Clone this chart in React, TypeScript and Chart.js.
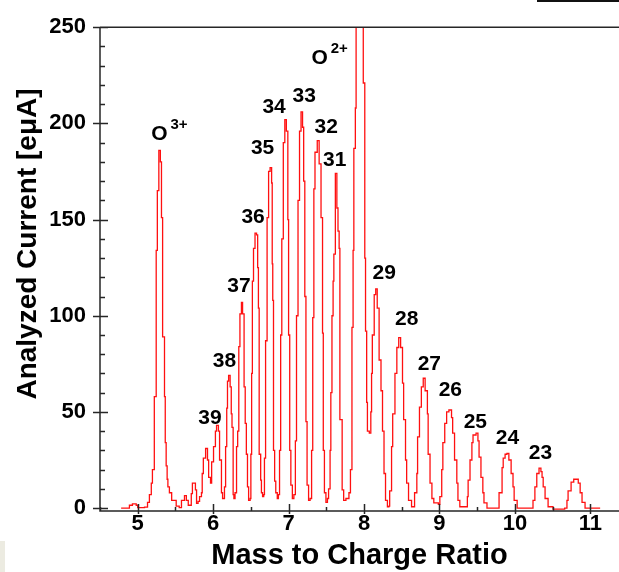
import React, { useEffect, useRef } from "react";
import { Chart, registerables } from "chart.js";

Chart.register(...registerables);

// Mass-to-charge axis positions of the measured trace
const massToCharge = [
  4.78, 4.89, 4.93, 4.98, 5.0, 5.09, 5.13, 5.155, 5.18, 5.195, 5.22, 5.245, 5.26, 5.28, 5.3, 5.315, 5.33, 5.355, 5.365, 5.377, 5.39, 5.4, 5.42, 5.45, 5.51, 5.55,
  5.58, 5.62, 5.645, 5.67, 5.71, 5.725, 5.765, 5.78, 5.8, 5.82, 5.845, 5.855, 5.87, 5.9, 5.925, 5.94, 5.965, 5.98, 6.005, 6.03, 6.045, 6.07, 6.085, 6.11, 6.125,
  6.15, 6.165, 6.18, 6.19, 6.205, 6.225, 6.24, 6.25, 6.265, 6.275, 6.29,
  6.31, 6.325, 6.34, 6.355, 6.375, 6.39, 6.41, 6.425, 6.44, 6.455, 6.47, 6.49,
  6.5, 6.51, 6.52, 6.535, 6.555, 6.575, 6.59, 6.6, 6.61, 6.63, 6.64, 6.655, 6.67,
  6.68, 6.695, 6.715, 6.735, 6.755, 6.775, 6.783, 6.79, 6.8, 6.815, 6.83, 6.85, 6.865,
  6.88, 6.895, 6.91, 6.93, 6.95, 6.97, 6.99, 7.0, 7.015, 7.03, 7.05, 7.07,
  7.09, 7.105, 7.125, 7.145, 7.165, 7.185, 7.2, 7.215, 7.23, 7.245, 7.265, 7.285,
  7.305, 7.32, 7.335, 7.35, 7.38, 7.405, 7.43, 7.45, 7.46, 7.475, 7.495, 7.515,
  7.53, 7.55, 7.56, 7.575, 7.59, 7.6, 7.62, 7.64, 7.655, 7.67, 7.68, 7.71, 7.73, 7.76,
  7.8, 7.82, 7.84, 7.855, 7.865, 7.885, 7.895, 7.975, 7.99, 8.01, 8.02, 8.035, 8.045, 8.07, 8.09,
  8.1, 8.11, 8.135, 8.155, 8.175, 8.2, 8.225, 8.245, 8.265, 8.285, 8.31, 8.33,
  8.34, 8.365, 8.38, 8.41, 8.435, 8.46, 8.485, 8.51, 8.525, 8.55, 8.565, 8.59, 8.63,
  8.67, 8.7, 8.71, 8.735, 8.76, 8.785, 8.81, 8.84, 8.85, 8.875, 8.9, 8.925,
  8.985, 9.005, 9.03, 9.045, 9.07, 9.095, 9.125, 9.16, 9.175, 9.2, 9.23, 9.245, 9.27, 9.36,
  9.37, 9.38, 9.405, 9.43, 9.445, 9.485, 9.51, 9.525, 9.55, 9.575, 9.59, 9.63, 9.76,
  9.79, 9.83, 9.845, 9.87, 9.895, 9.92, 9.95, 9.975, 9.99, 10.03, 10.2,
  10.24, 10.265, 10.29, 10.32, 10.345, 10.36, 10.375, 10.4, 10.44, 10.505, 10.66,
  10.69, 10.705, 10.745, 10.78, 10.81, 10.84, 10.865, 10.89, 10.93, 11.13,
];

// Analyzed current [eμA] at each position above
const analyzedCurrent = [
  0, 1.5, 2.2, 1.5, 0.3, 0.5, 3, 7, 13, 20, 58, 134, 165, 186, 180, 151, 89, 58, 34, 22, 15, 11, 8, 4, 1, 0.3,
  4, 6.5, 4, 1.5, 7.5, 13, 9.5, 2.5, 3.5, 6, 8, 18, 26, 31, 25, 16, 13, 24, 32, 40, 43, 40, 25, 8, 5,
  11, 32, 52, 66, 69, 63, 49, 42, 7, 5, 8,
  32, 40, 84, 101, 107, 101, 63, 44, 28, 11, 4, 5,
  28, 70, 118, 135, 143, 142, 125, 104, 28, 14.5, 8, 6, 7,
  26, 87, 151, 175, 177, 169, 127, 108, 30, 14, 8, 5, 7,
  30, 90, 140, 190, 202, 196, 150, 90, 30, 12, 5, 7,
  35, 100, 160, 196, 206, 198, 170, 110, 45, 12, 4, 5,
  30, 99, 166, 185, 191, 179, 151, 91, 30, 8, 3, 5,
  10, 30, 60, 100, 118, 132, 174, 156, 144, 135, 46, 9.5, 4, 5,
  8, 20, 94, 134, 187, 208, 300, 300, 221, 130, 92, 55, 40, 39, 50,
  70, 90, 111, 114, 104, 77, 61, 40, 18, 4, 0.7, 1,
  9, 32, 49, 70, 83.5, 88.6, 83.5, 65, 46, 25, 13, 4, 0.7,
  8, 18, 37, 52.5, 63, 67.5, 61, 49, 28, 13, 5, 2.7,
  2, 6, 20, 34, 44, 50, 51, 47, 39, 25, 13, 4, 0.7, 0.7,
  6, 14.5, 25, 34, 38, 39, 35, 26.5, 16, 8, 2.7, 0, 0,
  8, 21, 26, 28, 28.5, 25, 18, 11, 4, 0, 0,
  4, 11, 18, 20.8, 19, 16, 11, 5, 0.7, -0.5, 0,
  4, 9, 13.5, 15, 15, 13, 8, 3, 0, 0,
];

const xTickValues = [5, 6, 7, 8, 9, 10, 11];
const yTickValues = [0, 50, 100, 150, 200, 250];

// Peak annotations (charge state labels)
const peakLabelText = ["O", "39", "38", "37", "36", "35", "34", "33", "32", "31", "O", "29", "28", "27", "26", "25", "24", "23"];
const peakLabelSup = ["3+", "", "", "", "", "", "", "", "", "", "2+", "", "", "", "", "", "", ""];
const peakLabelX = [5.288, 5.958, 6.151, 6.343, 6.529, 6.655, 6.808, 7.206, 7.498, 7.611, 7.412, 8.268, 8.567, 8.866, 9.144, 9.476, 9.901, 10.339];
const peakLabelY = [195.5, 47.8, 77.0, 116.4, 152.1, 187.8, 209.5, 215.2, 198.7, 181.6, 234.6, 123.1, 99.3, 75.5, 62.3, 45.7, 37.2, 29.4];

const FONT = "'Liberation Sans', Arial, Helvetica, sans-serif";

const decorPlugin = {
  id: "decor",
  afterDraw(chart: any) {
    const { ctx, chartArea: ca } = chart;
    const xs = chart.scales.x;
    const ys = chart.scales.y;
    ctx.save();
    // axes frame
    ctx.strokeStyle = "#262626";
    ctx.lineWidth = 1.5;
    ctx.beginPath();
    ctx.moveTo(ca.left, ca.top);
    ctx.lineTo(ca.right, ca.top);
    ctx.moveTo(ca.left, ca.top);
    ctx.lineTo(ca.left, ca.bottom);
    ctx.lineTo(ca.right, ca.bottom);
    // y ticks
    for (let v = 0; v <= 250; v += 10) {
      const py = Math.round(ys.getPixelForValue(v)) + 0.5;
      const major = v % 50 === 0;
      ctx.moveTo(major ? ca.left - 7 : ca.left, py);
      ctx.lineTo(ca.left + (major ? 8 : 5), py);
    }
    // x ticks
    for (let i = 9; i <= 22; i++) {
      const v = i / 2;
      const px = Math.round(xs.getPixelForValue(v)) + 0.5;
      const major = i % 2 === 0;
      ctx.moveTo(px, major ? ca.bottom + 3 : ca.bottom);
      ctx.lineTo(px, ca.bottom - (major ? 7 : 4));
    }
    ctx.stroke();

    // y axis title
    ctx.fillStyle = "#000";
    ctx.save();
    ctx.translate(28, 244);
    ctx.rotate(-Math.PI / 2);
    ctx.font = `bold 28px ${FONT}`;
    ctx.textAlign = "center";
    ctx.textBaseline = "middle";
    ctx.fillText("Analyzed Current [eμA]", 0, 0);
    ctx.restore();

    // peak labels
    ctx.textAlign = "center";
    ctx.textBaseline = "alphabetic";
    for (let i = 0; i < peakLabelText.length; i++) {
      const px = xs.getPixelForValue(peakLabelX[i]);
      const py = ys.getPixelForValue(peakLabelY[i]);
      ctx.font = `bold 21px ${FONT}`;
      ctx.textAlign = "center";
      ctx.fillText(peakLabelText[i], px, py + 7.5);
      if (peakLabelSup[i]) {
        ctx.font = `bold 15px ${FONT}`;
        ctx.textAlign = "left";
        ctx.fillText(peakLabelSup[i], px + 11, py - 3.5);
      }
    }

    // decorative fragments at image edges
    ctx.fillStyle = "#111";
    ctx.fillRect(537, 0, 82, 2);
    ctx.fillStyle = "#ecebe1";
    ctx.fillRect(0, 541, 5, 31);
    ctx.restore();
  },
};

export default function App() {
  const canvasRef = useRef<HTMLCanvasElement | null>(null);

  useEffect(() => {
    const canvas = canvasRef.current;
    if (!canvas) return;
    const points = massToCharge.map((m, i) => ({ x: m, y: analyzedCurrent[i] }));
    const chart = new Chart(canvas, {
      type: "line",
      data: {
        datasets: [
          {
            data: points,
            borderColor: "#ff1010",
            borderWidth: 1.3,
            pointRadius: 0,
            stepped: true,
            fill: false,
            tension: 0,
          },
        ],
      },
      options: {
        animation: false,
        responsive: false,
        maintainAspectRatio: false,
        devicePixelRatio: 1,
        parsing: false,
        layout: { padding: { top: 25, left: 0, right: 0, bottom: 0 } },
        plugins: { legend: { display: false }, tooltip: { enabled: false } },
        scales: {
          x: {
            type: "linear",
            min: 4.5,
            max: 11.38,
            afterBuildTicks: (s: any) => {
              s.ticks = xTickValues.map((v) => ({ value: v }));
            },
            afterFit: (s: any) => {
              s.height = 61;
            },
            grid: { display: false, drawTicks: false },
            border: { display: false },
            ticks: {
              color: "#000",
              padding: 0,
              autoSkip: false,
              maxRotation: 0,
              font: { family: FONT, size: 22, weight: "bold" },
            },
            title: {
              display: true,
              text: "Mass to Charge Ratio",
              color: "#000",
              padding: { top: 0, bottom: 0 },
              font: { family: FONT, size: 29, weight: "bold", lineHeight: 1.1 },
            },
          },
          y: {
            type: "linear",
            min: -1.5,
            max: 250,
            afterBuildTicks: (s: any) => {
              s.ticks = yTickValues.map((v) => ({ value: v }));
            },
            afterFit: (s: any) => {
              s.width = 100;
            },
            grid: { display: false, drawTicks: false },
            border: { display: false },
            ticks: {
              color: "#000",
              padding: 14,
              font: { family: FONT, size: 22, weight: "bold" },
            },
          },
        },
      },
      plugins: [decorPlugin],
    } as any);
    return () => chart.destroy();
  }, []);

  return (
    <div style={{ position: "absolute", left: 0, top: 0, width: 619, height: 572, background: "#fff" }}>
      <canvas ref={canvasRef} width={619} height={572} style={{ width: 619, height: 572, display: "block" }} />
    </div>
  );
}
